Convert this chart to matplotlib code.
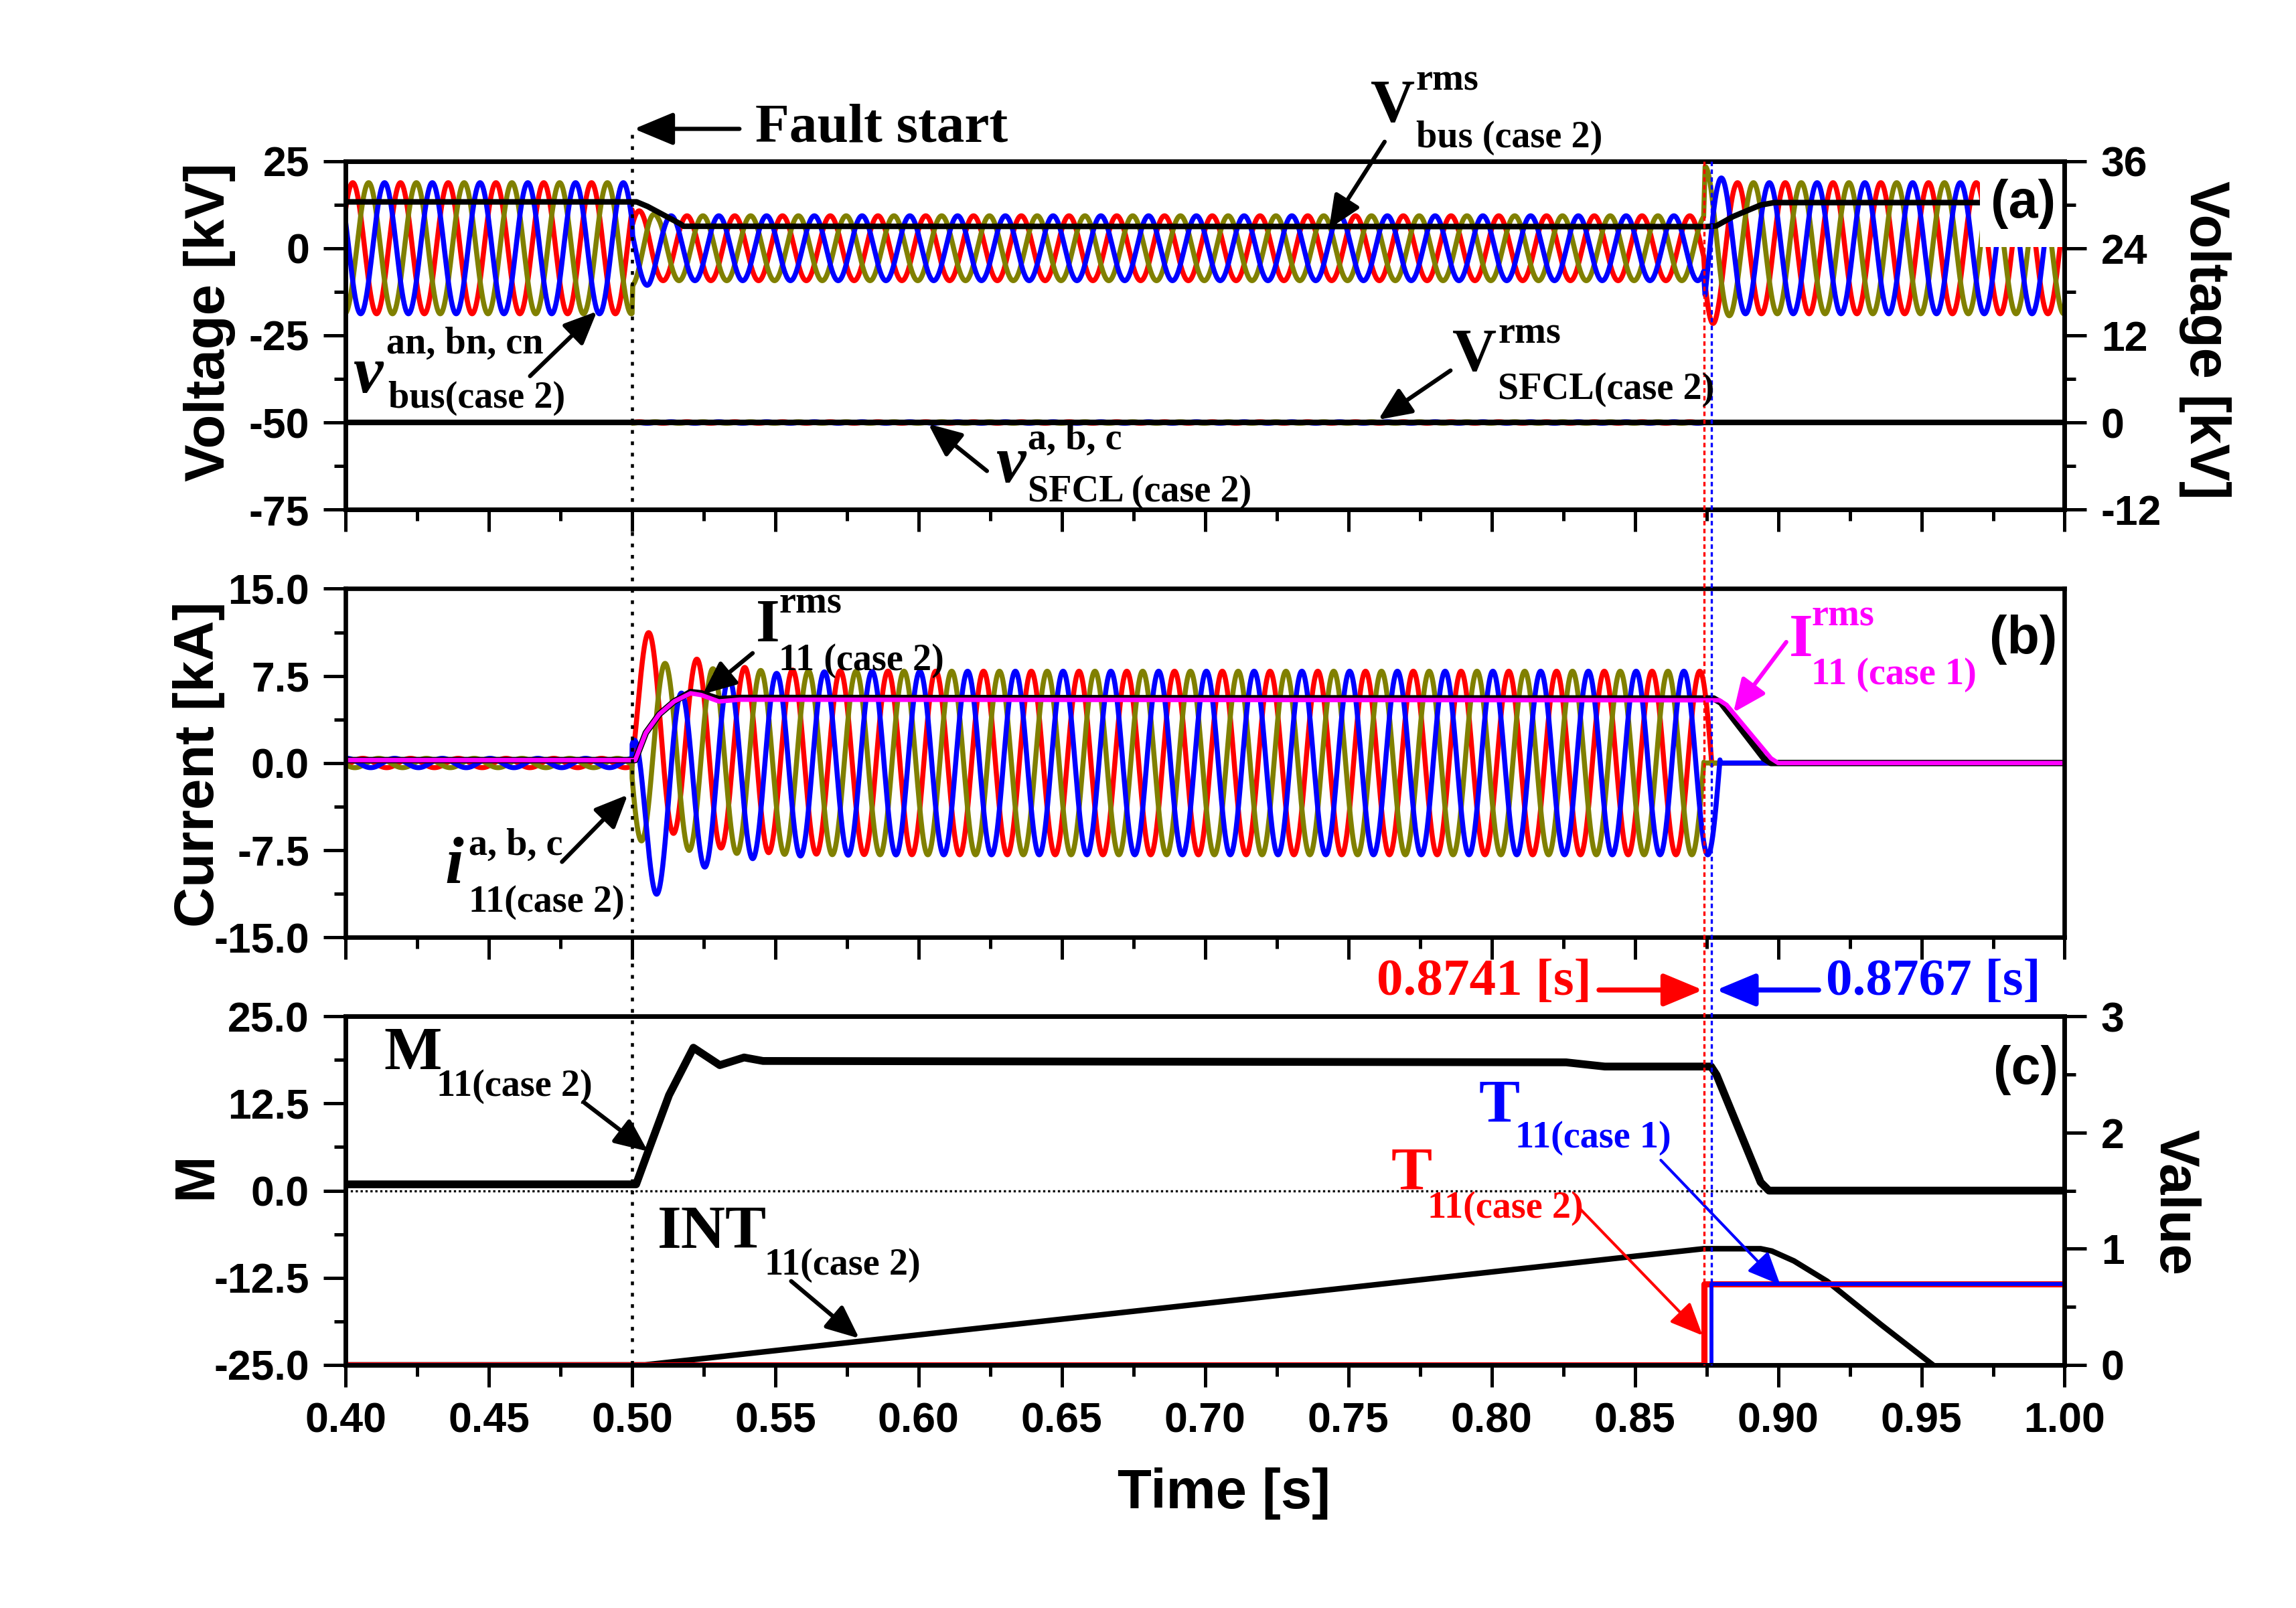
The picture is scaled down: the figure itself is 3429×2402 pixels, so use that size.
import numpy as np
import matplotlib
matplotlib.use("Agg")
import matplotlib.pyplot as plt
from matplotlib.ticker import MultipleLocator, FormatStrFormatter
from matplotlib.lines import Line2D
from matplotlib.patches import FancyArrowPatch, Rectangle

plt.rcParams['font.family'] = 'Liberation Sans'
plt.rcParams['font.weight'] = 'bold'
plt.rcParams['axes.unicode_minus'] = False

# ---------------- values ----------------
f_sys = 60.0            # Hz, 6 cycles per 0.1 s
t_fault = 0.50
t_trip2 = 0.8741        # T11 case 2
t_trip1 = 0.8767        # T11 case 1

# (a) bus phase voltage crest envelope [kV]
vbus_env_t = [0.40, 0.5000, 0.5002, 0.5060, 0.5090, 0.8740, 0.8745, 0.8790, 0.8850, 1.00]
vbus_env_kv = [18.8, 18.8, 10.8, 10.6, 9.3, 9.3, 23.5, 20.5, 18.8, 18.8]
vbus_crest = 0.4025     # time of a phase-a crest
vbus_rms_t = [0.40, 0.5016, 0.5054, 0.5168, 0.5180, 0.8748, 0.8784, 0.8843, 0.8939, 0.8987, 1.00]
vbus_rms_kv = [13.3, 13.3, 12.0, 7.0, 6.3, 6.2, 6.4, 9.1, 12.4, 13.1, 13.1]
vsfcl_amp = 0.25        # right axis, kV (mostly hidden under rms line)
vsfcl_rms_t = [0.40, 1.00]
vsfcl_rms_kv = [0.0, 0.0]

# (b) line 11 currents [kA]
i_pre_amp = 0.4
i_flt_amp = 7.9
i_crest = 0.506          # phase-a crest during the fault
i_dc_tau = 0.0144
i_dc0 = [5.0, 1.5, -6.2]  # a, b, c offsets at fault start
i_clear = [0.8769, 0.8741, 0.8797]
irms2_t = [0.40, 0.5011, 0.5048, 0.5095, 0.5147, 0.5204, 0.5241, 0.5303, 0.5376, 0.8775, 0.8800, 0.8950, 0.8975, 1.00]
irms2_ka = [0.25, 0.25, 2.6, 4.2, 5.3, 6.1, 6.0, 5.5, 5.6, 5.55, 5.2, 0.4, 0.0, 0.0]
irms1_t = [0.40, 0.5011, 0.5048, 0.5095, 0.5147, 0.5204, 0.5241, 0.5303, 0.5376, 0.8795, 0.8820, 0.8975, 0.9000, 1.00]
irms1_ka = [0.25, 0.25, 2.6, 4.2, 5.3, 6.0, 5.85, 5.3, 5.45, 5.4, 5.0, 0.4, 0.0, 0.0]

# (c) M, INT and trip signals
m_t = [0.40, 0.5014, 0.5063, 0.5129, 0.5214, 0.5306, 0.5391, 0.5457, 0.826, 0.8395, 0.8766,
       0.8785, 0.8939, 0.8968, 1.00]
m_val = [0.9, 0.9, 6.4, 13.7, 20.5, 18.0, 19.1, 18.6, 18.4, 17.8, 17.8, 16.6, 1.2, 0.0, 0.0]
int_t = [0.40, 0.5045, 0.848, 0.874, 0.8939, 0.8978, 0.9055, 0.9171, 0.936, 0.954, 0.958]
int_val = [0.0, 0.0, 0.93, 1.0, 1.0, 0.98, 0.895, 0.72, 0.345, 0.0, -0.08]
trip2_t = [0.40, t_trip2, t_trip2, 1.00]
trip2_val = [0.0, 0.0, 0.695, 0.695]
trip1_t = [0.40, t_trip1, t_trip1, 1.00]
trip1_val = [0.0, 0.0, 0.695, 0.695]

col = ['#ff0000', '#808000', '#0000ff']
shift = [0.0, 2 * np.pi / 3, 4 * np.pi / 3]

# ---------------- waveforms ----------------
t = np.linspace(0.40, 1.00, 30001)
env = np.interp(t, vbus_env_t, vbus_env_kv)
ph_v = 2 * np.pi * f_sys * (t - vbus_crest)
ph_i = 2 * np.pi * f_sys * (t - i_crest)

# ---------------- figure ----------------
W, H = 1568, 1098   # reference pixel grid used for placing text


def fx(x):
    return x / W


def fy(y):
    return 1 - y / H


fig = plt.figure(figsize=(3429 / 300, 2402 / 300), dpi=300)
left, right = fx(236), fx(1410)
aw = right - left
ah = (348 - 110) / H
ax_a = fig.add_axes([left, fy(348), aw, ah])
ax_b = fig.add_axes([left, fy(640), aw, ah])
ax_c = fig.add_axes([left, fy(932), aw, ah])


def style(ax, xlabels=False):
    ax.set_xlim(0.40, 1.00)
    ax.xaxis.set_major_locator(MultipleLocator(0.05))
    ax.xaxis.set_minor_locator(MultipleLocator(0.025))
    ax.xaxis.set_major_formatter(FormatStrFormatter('%.2f'))
    ax.tick_params(which='major', direction='out', length=8, width=1.2, labelsize=15, pad=5)
    ax.tick_params(which='minor', direction='out', length=4, width=1.2)
    ax.tick_params(axis='x', which='both', top=False, bottom=True, labelbottom=xlabels)
    ax.tick_params(axis='y', which='both', right=False)
    for s in ax.spines.values():
        s.set_linewidth(1.6)
        s.set_zorder(10)


def style_right(ax):
    ax.tick_params(which='major', direction='out', length=8, width=1.2, labelsize=15, pad=5)
    ax.tick_params(which='minor', direction='out', length=4, width=1.2)
    for s in ax.spines.values():
        s.set_linewidth(1.6)


# ---- (a) voltages
style(ax_a)
ax_a.set_ylim(-75, 25)
ax_a.yaxis.set_major_locator(MultipleLocator(25))
ax_a.yaxis.set_minor_locator(MultipleLocator(12.5))
for k in range(3):
    ax_a.plot(t, env * np.cos(ph_v - shift[k]), color=col[k], lw=1.8)
ax_a.plot(vbus_rms_t, vbus_rms_kv, color='k', lw=2.0)
ax_a.add_patch(Rectangle((0.9705, 0.3), 0.0295, 24.7, facecolor='white', edgecolor='none', zorder=4))
ax_a.text(0.9855, 12.8, '(a)', fontsize=19, ha='center', va='center', zorder=5)

ax_a2 = ax_a.twinx()
ax_a2.set_ylim(-12, 36)
ax_a2.yaxis.set_major_locator(MultipleLocator(12))
ax_a2.yaxis.set_minor_locator(MultipleLocator(6))
style_right(ax_a2)
on = (t >= t_fault) & (t < t_trip2)
for k in range(3):
    ax_a2.plot(t, np.where(on, vsfcl_amp * np.cos(ph_v - shift[k]), 0.0), color=col[k], lw=1.0)
ax_a2.plot(vsfcl_rms_t, vsfcl_rms_kv, color='k', lw=2.0)

# ---- (b) currents
style(ax_b)
ax_b.set_ylim(-15, 15)
ax_b.yaxis.set_major_locator(MultipleLocator(7.5))
ax_b.yaxis.set_minor_locator(MultipleLocator(3.75))
ax_b.yaxis.set_major_formatter(FormatStrFormatter('%.1f'))
for k in range(3):
    pre = i_pre_amp * np.cos(ph_i - shift[k])
    flt = i_flt_amp * np.cos(ph_i - shift[k]) + i_dc0[k] * np.exp(-(t - t_fault) / i_dc_tau)
    cur = np.where(t < t_fault, pre, flt)
    cur[t >= i_clear[k]] = 0.0
    ax_b.plot(t, cur, color=col[k], lw=1.8)
ax_b.plot(irms2_t, irms2_ka, color='k', lw=2.3)
ax_b.plot(irms1_t, irms1_ka, color='#ff00ff', lw=1.6)
ax_b.text(0.9855, 10.6, '(b)', fontsize=19, ha='center', va='center')

# ---- (c) M, INT, T
style(ax_c, xlabels=True)
ax_c.set_ylim(-25, 25)
ax_c.yaxis.set_major_locator(MultipleLocator(12.5))
ax_c.yaxis.set_minor_locator(MultipleLocator(6.25))
ax_c.yaxis.set_major_formatter(FormatStrFormatter('%.1f'))
ax_c.axhline(0, color='k', lw=0.8, ls=(0, (1, 1.2)))
ax_c.plot(m_t, m_val, color='k', lw=2.8)
ax_c.text(0.9865, 17.3, '(c)', fontsize=19, ha='center', va='center')

ax_c2 = ax_c.twinx()
ax_c2.set_ylim(0, 3)
ax_c2.yaxis.set_major_locator(MultipleLocator(1))
ax_c2.yaxis.set_minor_locator(MultipleLocator(0.5))
style_right(ax_c2)
ax_c2.plot(int_t, int_val, color='k', lw=2.0)
ax_c2.plot(trip2_t, trip2_val, color='#ff0000', lw=2.2)
ax_c2.plot(trip1_t, trip1_val, color='#0000ff', lw=1.4)

# ---- axis titles
fig.text(fx(143), fy(220), 'Voltage [kV]', rotation=90, ha='center', va='center', fontsize=20)
fig.text(fx(1506), fy(232), 'Voltage [kV]', rotation=-90, ha='center', va='center', fontsize=20)
fig.text(fx(136), fy(522), 'Current [kA]', rotation=90, ha='center', va='center', fontsize=20)
fig.text(fx(134), fy(803), 'M', rotation=90, ha='center', va='center', fontsize=20)
fig.text(fx(1485), fy(821), 'Value', rotation=-90, ha='center', va='center', fontsize=20)
fig.text(fx(836), fy(1020), 'Time [s]', ha='center', va='center', fontsize=20)


# ---- vertical markers across the three panels
def tfig(tv):
    return left + (tv - 0.40) / 0.60 * aw


fig.add_artist(Line2D([tfig(t_fault)] * 2, [fy(92), fy(932)], transform=fig.transFigure,
                      color='k', lw=1.1, ls=(0, (1.2, 2.5))))
fig.add_artist(Line2D([tfig(t_trip2)] * 2, [fy(110), fy(932)], transform=fig.transFigure,
                      color='#ff0000', lw=0.8, ls=(0, (2, 1.5))))
fig.add_artist(Line2D([tfig(t_trip1)] * 2, [fy(110), fy(932)], transform=fig.transFigure,
                      color='#0000ff', lw=0.8, ls=(0, (2, 1.5))))


# ---- annotations
def put(x, y, s, size, color='k', italic=False):
    fig.text(fx(x), fy(y), s, fontsize=size, color=color, family='Liberation Serif',
             weight='bold', style='italic' if italic else 'normal', ha='left', va='center')


def arrow(x0, y0, x1, y1, color='k', lw=1.5, hl=0.5, hw=0.22, ms=20):
    fig.add_artist(FancyArrowPatch((fx(x0), fy(y0)), (fx(x1), fy(y1)), transform=fig.transFigure,
                                   arrowstyle='-|>,head_length=%g,head_width=%g' % (hl, hw),
                                   mutation_scale=ms, color=color, lw=lw, shrinkA=0, shrinkB=0))


big, small = 22, 13.5

put(516, 88, 'Fault start', 20)
arrow(505, 88, 433, 88, hl=0.6, hw=0.25)

put(936, 73, 'V', big)
put(967, 55, 'rms', small)
put(967, 94, 'bus (case 2)', small)
arrow(945.6, 96.8, 907.6, 156.2)

put(241, 257, 'v', 24, italic=True)
put(264, 235, 'an, bn, cn', small)
put(265, 272, 'bus(case 2)', small)
arrow(362, 256.8, 407.7, 212.6)

put(992, 243, 'V', big)
put(1023, 228, 'rms', small)
put(1023, 266, 'SFCL(case 2)', small)
arrow(990.6, 253, 941.3, 286.6)

put(680, 318, 'v', 24, italic=True)
put(702, 300, 'a, b, c', small)
put(702, 336, 'SFCL (case 2)', small)
arrow(674, 321.6, 634, 289.5)

put(516, 428, 'I', big)
put(532, 412, 'rms', small)
put(532, 451, '11 (case 2)', small)
arrow(514, 446, 480, 474)

put(304, 592, 'i', 24, italic=True)
put(320, 577, 'a, b, c', small)
put(320, 616, '11(case 2)', small)
arrow(383.8, 588.5, 428.7, 542.7)

put(1222, 438, 'I', big, color='#ff00ff')
put(1237, 421, 'rms', small, color='#ff00ff')
put(1237, 461, '11 (case 1)', small, color='#ff00ff')
arrow(1219.9, 438.4, 1183.8, 486.5, color='#ff00ff')

put(940, 671, '0.8741 [s]', 19, color='#ff0000')
arrow(1092, 676, 1163, 676, color='#ff0000', lw=1.8, hl=0.6, hw=0.25)
put(1247, 671, '0.8767 [s]', 19, color='#0000ff')
arrow(1242, 676, 1172, 676, color='#0000ff', lw=1.8, hl=0.6, hw=0.25)

put(262, 720, 'M', big)
put(298, 742, '11(case 2)', small)
arrow(398.5, 752.5, 442.5, 786.2)

put(449, 842, 'INT', big)
put(522, 864, '11(case 2)', small)
arrow(540.3, 874.8, 586.8, 913.9)

put(1010, 756, 'T', big, color='#0000ff')
put(1035, 777, '11(case 1)', small, color='#0000ff')
arrow(1134.2, 792.2, 1215.8, 877.3, color='#0000ff', lw=1.0)

put(950, 802, 'T', big, color='#ff0000')
put(975, 825, '11(case 2)', small, color='#ff0000')
arrow(1079.2, 825.6, 1162.7, 911.9, color='#ff0000', lw=1.0)

fig.savefig('out.png', dpi=300)
